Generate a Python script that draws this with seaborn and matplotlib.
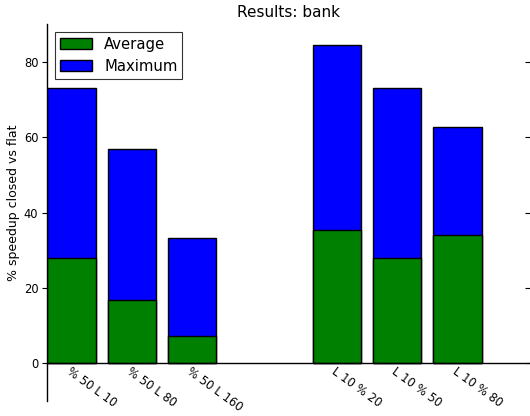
#!/usr/bin/env python
# coding: utf-8

import pandas as pd
import matplotlib
matplotlib.use("Agg")
import matplotlib.pyplot as plt
import matplotlib.lines as mlines
import seaborn as sns
import numpy as np

# Chart values
group_a_labels = ["% 50 L 10", "% 50 L 80", "% 50 L 160"]
group_b_labels = ["L 10 % 20", "L 10 % 50", "L 10 % 80"]
group_a_average = [27.9, 16.7, 7.3]
group_a_maximum = [72.9, 56.8, 33.2]
group_b_average = [35.4, 27.8, 34.1]
group_b_maximum = [84.4, 72.9, 62.8]
y_ticks = [0, 20, 40, 60, 80]


def build_frame():
    # second group sits a bit further right, leaving a gap between groups
    pos = np.concatenate([np.arange(3) + 0.4, np.arange(3) + 4.8])
    data = pd.DataFrame({
        "pos": pos,
        "label": group_a_labels + group_b_labels,
        "Average": group_a_average + group_b_average,
        "Maximum": group_a_maximum + group_b_maximum,
    })
    return data


def draw_chart(data):
    fig = plt.figure(figsize=(5.3, 4.16), dpi=100)
    ax = fig.add_axes([47.3 / 530, 15 / 416, 1 - 47.3 / 530, 377 / 416])

    sns.barplot(data=data, x="pos", y="Maximum", native_scale=True, width=0.8,
                color="#0000ff", saturation=1, edgecolor="black", linewidth=1,
                errorbar=None, ax=ax)
    sns.barplot(data=data, x="pos", y="Average", native_scale=True, width=0.8,
                color="#008000", saturation=1, edgecolor="black", linewidth=1,
                errorbar=None, ax=ax)

    ax.set_xlim(0, 8)
    ax.set_ylim(-10, 90)
    ax.set_title("Results: bank", fontsize=11, pad=5)
    ax.set_ylabel("% speedup closed vs flat", fontsize=9)
    ax.yaxis.set_label_coords(-0.056, 0.525)
    ax.set_xlabel("")

    # spines: left and zero line only
    ax.spines["top"].set_visible(False)
    ax.spines["right"].set_visible(False)
    ax.spines["bottom"].set_position(("data", 0))
    ax.spines["left"].set_linewidth(1)
    ax.spines["bottom"].set_linewidth(1)

    ax.set_xticks(data["pos"])
    ax.set_xticklabels(data["label"], rotation=-36, ha="left", va="top",
                       rotation_mode="anchor", fontsize=8.4)
    ax.tick_params(axis="x", length=0, pad=1.5)

    ax.set_yticks(y_ticks)
    ax.set_yticklabels([str(t) for t in y_ticks], fontsize=8.3)
    ax.tick_params(axis="y", direction="out", length=3.5, width=0.8,
                   right=True, pad=3)
    for tick in ax.yaxis.get_major_ticks():
        tick.tick2line.set_marker(mlines.TICKLEFT)

    handles = [ax.patches[len(data)], ax.patches[0]]
    leg = ax.legend(handles, ["Average", "Maximum"], loc="upper left",
                    fontsize=10.7, frameon=True, fancybox=False,
                    handlelength=2.15, handleheight=0.75, handletextpad=0.8,
                    borderaxespad=0.55, borderpad=0.32, labelspacing=0.48)
    leg.get_frame().set_edgecolor("black")
    leg.get_frame().set_linewidth(0.8)

    fig.savefig("out.png", dpi=100)


def main():
    data = build_frame()
    draw_chart(data)


if __name__ == "__main__":
    main()
